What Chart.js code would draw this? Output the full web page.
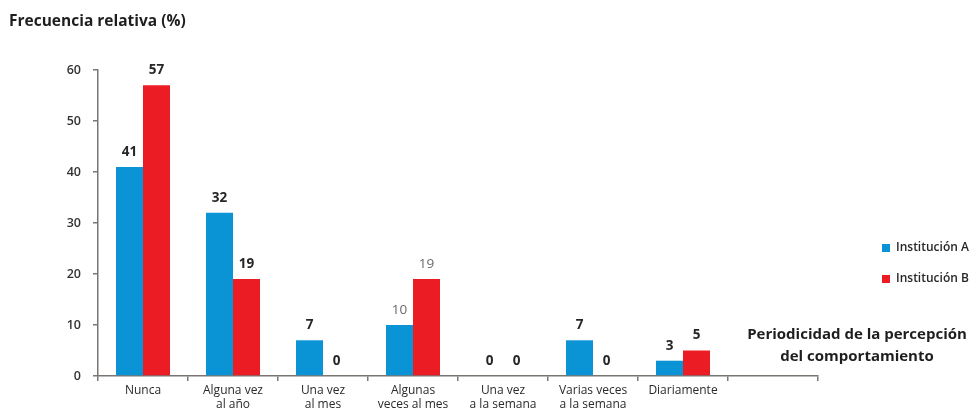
<!DOCTYPE html>
<html lang="es">
<head>
<meta charset="utf-8">
<title>Frecuencia relativa por periodicidad</title>
<script src="https://cdn.jsdelivr.net/npm/chart.js@4.4.1/dist/chart.umd.min.js"></script>
<style>
  html, body { margin: 0; padding: 0; background: #ffffff; }
  #wrap { position: relative; width: 972px; height: 412px; overflow: hidden; }
  canvas { display: block; }
</style>
</head>
<body>
<div id="wrap"><canvas id="chart" width="972" height="412"></canvas></div>
<script>
// Periodicity categories (the last slot is intentionally empty)
const categories = [
  ['Nunca'],
  ['Alguna vez', 'al año'],
  ['Una vez', 'al mes'],
  ['Algunas', 'veces al mes'],
  ['Una vez', 'a la semana'],
  ['Varias veces', 'a la semana'],
  ['Diariamente'],
  ['']
];

// Relative frequency (%) per institution
const institucionA = [41, 32, 7, 10, 0, 7, 3, null];
const institucionB = [57, 19, 0, 19, 0, 0, 5, null];

const seriesNames = ['Institución A', 'Institución B'];
const yTicks = [0, 10, 20, 30, 40, 50, 60];

const yTitle = 'Frecuencia relativa (%)';
const xTitle = ['Periodicidad de la percepción', 'del comportamiento'];

const FONT = '"Open Sans", "Noto Sans", sans-serif';
const BLUE = '#0a94d6';
const RED = '#ec1c24';
const AXIS = '#7a7672';

// Value labels above each bar; the "Algunas veces al mes" group is printed lighter
const valueLabels = {
  id: 'valueLabels',
  afterDatasetsDraw(chart) {
    const ctx = chart.ctx;
    const base = chart.scales.y.getPixelForValue(0);
    ctx.save();
    ctx.textAlign = 'center';
    ctx.textBaseline = 'middle';
    chart.data.datasets.forEach((ds, di) => {
      const meta = chart.getDatasetMeta(di);
      meta.data.forEach((bar, i) => {
        const v = ds.data[i];
        if (v === null || v === undefined) return;
        const light = (i === 3);
        ctx.font = (light ? '400 ' : '700 ') + '13.5px ' + FONT;
        ctx.fillStyle = light ? '#6a6a6a' : '#262626';
        const top = Math.min(bar.y, base);
        ctx.fillText(String(v), bar.x, top - 15);
      });
    });
    ctx.restore();
  }
};

// Titles and the legend on the right side
const annotations = {
  id: 'annotations',
  afterDraw(chart) {
    const ctx = chart.ctx;
    ctx.save();
    ctx.fillStyle = '#1e1e1e';
    ctx.textBaseline = 'middle';

    ctx.textAlign = 'left';
    ctx.font = '700 15.5px ' + FONT;
    ctx.fillText(yTitle, 9, 22);

    ctx.textAlign = 'center';
    ctx.font = '700 15px ' + FONT;
    ctx.fillText(xTitle[0], 857, 335);
    ctx.fillText(xTitle[1], 857, 357);

    const colors = [BLUE, RED];
    const ys = [248, 279];
    ctx.textAlign = 'left';
    ctx.font = '600 12px ' + FONT;
    seriesNames.forEach((name, k) => {
      ctx.fillStyle = colors[k];
      ctx.fillRect(882, ys[k] - 4, 8, 8);
      ctx.fillStyle = '#262626';
      ctx.fillText(name, 896, ys[k]);
    });
    ctx.restore();
  }
};

new Chart(document.getElementById('chart'), {
  type: 'bar',
  data: {
    labels: categories,
    datasets: [
      { label: seriesNames[0], data: institucionA, backgroundColor: BLUE },
      { label: seriesNames[1], data: institucionB, backgroundColor: RED }
    ]
  },
  options: {
    responsive: false,
    animation: false,
    devicePixelRatio: 1,
    layout: { padding: { left: 0, right: 154, top: 70, bottom: 0 } },
    datasets: { bar: { categoryPercentage: 0.6, barPercentage: 1.0 } },
    plugins: {
      legend: { display: false },
      tooltip: { enabled: false }
    },
    scales: {
      x: {
        offset: true,
        grid: {
          offset: true,
          drawOnChartArea: false,
          drawTicks: true,
          tickLength: 5,
          color: AXIS,
          lineWidth: 1.5
        },
        border: { color: AXIS, width: 1.5 },
        ticks: {
          color: '#2a2a2a',
          font: { family: FONT, size: 12 },
          padding: 2,
          maxRotation: 0,
          autoSkip: false
        },
        afterFit(scale) { scale.height = 36; }
      },
      y: {
        min: 0,
        max: 60,
        afterBuildTicks(scale) { scale.ticks = yTicks.map(v => ({ value: v })); },
        grid: {
          drawOnChartArea: false,
          drawTicks: true,
          tickLength: 5,
          color: AXIS,
          lineWidth: 1.5
        },
        border: { color: AXIS, width: 1.5 },
        ticks: {
          color: '#333333',
          font: { family: FONT, size: 12.5, weight: '600' },
          padding: 12
        },
        afterFit(scale) { scale.width = 98; }
      }
    }
  },
  plugins: [valueLabels, annotations]
});
</script>
</body>
</html>
